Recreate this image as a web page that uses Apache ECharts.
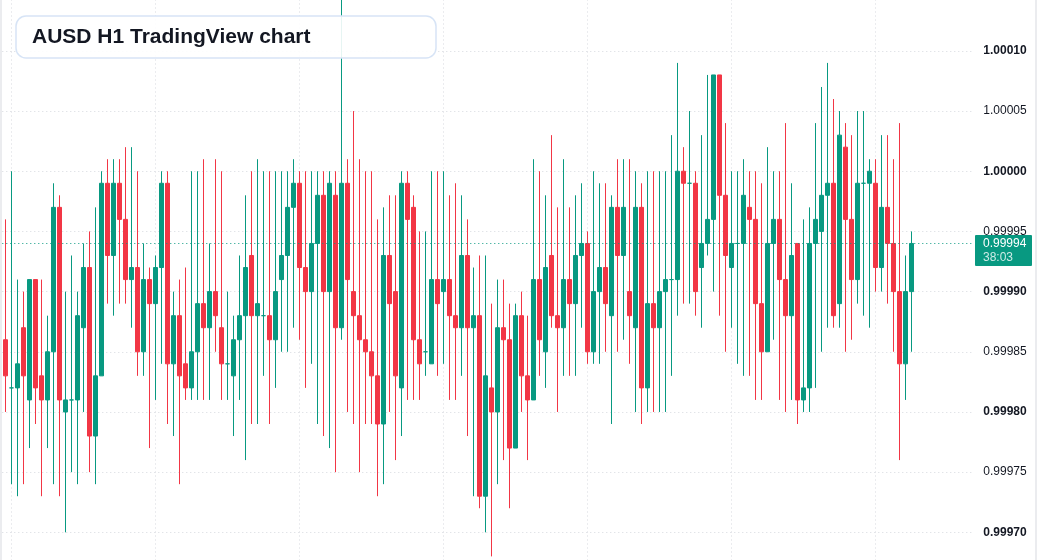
<!DOCTYPE html>
<html><head><meta charset="utf-8">
<script src="https://cdn.jsdelivr.net/npm/echarts@6/dist/echarts.min.js"></script>
<style>html,body{margin:0;padding:0;background:#fff;overflow:hidden}#c{width:1037px;height:560px}</style>
</head><body><div id="c"></div>
<script>
const OPEN = [0.99986,0.99982,0.99982,0.99987,0.99981,0.99991,0.99983,0.99981,0.99985,0.99997,
0.99980,0.99981,0.99981,0.99987,0.99992,0.99978,0.99983,0.99999,0.99993,0.99999,
0.99996,0.99991,0.99992,0.99985,0.99991,0.99989,0.99992,0.99999,0.99984,0.99988,
0.99984,0.99982,0.99985,0.99989,0.99987,0.99990,0.99987,0.99984,0.99983,0.99986,
0.99988,0.99993,0.99988,0.99988,0.99988,0.99986,0.99991,0.99993,0.99997,0.99999,
0.99992,0.99990,0.99994,0.99998,0.99990,0.99998,0.99987,0.99999,0.99990,0.99988,
0.99986,0.99985,0.99983,0.99979,0.99993,0.99990,0.99982,0.99999,0.99997,0.99986,
0.99985,0.99984,0.99991,0.99990,0.99991,0.99988,0.99987,0.99993,0.99987,0.99988,
0.99973,0.99982,0.99980,0.99987,0.99986,0.99977,0.99988,0.99983,0.99981,0.99991,
0.99985,0.99993,0.99988,0.99987,0.99991,0.99989,0.99993,0.99994,0.99985,0.99990,
0.99992,0.99988,0.99997,0.99993,0.99990,0.99987,0.99997,0.99982,0.99989,0.99987,
0.99990,0.99991,0.99991,1.00000,0.99999,0.99999,0.99992,0.99994,0.99996,1.00008,
0.99998,0.99992,0.99994,0.99994,0.99997,0.99996,0.99989,0.99985,0.99994,0.99996,
0.99991,0.99988,0.99994,0.99981,0.99982,0.99994,0.99995,0.99998,0.99999,0.99989,
1.00002,0.99996,0.99991,0.99999,0.99999,0.99999,0.99992,0.99997,0.99994,0.99990,
0.99984,0.99990];
const CLOSE = [0.99983,0.99982,0.99984,0.99983,0.99991,0.99982,0.99981,0.99985,0.99997,0.99981,
0.99981,0.99981,0.99988,0.99992,0.99978,0.99983,0.99999,0.99993,0.99999,0.99996,
0.99991,0.99992,0.99985,0.99991,0.99989,0.99992,0.99999,0.99984,0.99988,0.99983,
0.99982,0.99985,0.99989,0.99987,0.99990,0.99988,0.99984,0.99984,0.99986,0.99988,
0.99992,0.99988,0.99989,0.99988,0.99986,0.99990,0.99993,0.99997,0.99999,0.99992,
0.99990,0.99994,0.99998,0.99990,0.99999,0.99987,0.99999,0.99991,0.99988,0.99986,
0.99985,0.99983,0.99979,0.99993,0.99989,0.99983,0.99999,0.99996,0.99986,0.99984,
0.99985,0.99991,0.99989,0.99991,0.99988,0.99987,0.99993,0.99987,0.99988,0.99973,
0.99983,0.99980,0.99987,0.99986,0.99977,0.99988,0.99983,0.99981,0.99991,0.99986,
0.99992,0.99988,0.99987,0.99991,0.99989,0.99993,0.99994,0.99985,0.99990,0.99992,
0.99989,0.99997,0.99993,0.99997,0.99988,0.99997,0.99982,0.99989,0.99987,0.99990,
0.99991,0.99991,1.00000,0.99999,0.99999,0.99990,0.99994,0.99996,1.00008,0.99998,
0.99993,0.99994,0.99994,0.99998,0.99996,0.99989,0.99985,0.99994,0.99996,0.99991,
0.99988,0.99993,0.99981,0.99982,0.99994,0.99996,0.99998,0.99999,0.99988,1.00003,
0.99996,0.99991,0.99999,0.99999,1.00000,0.99992,0.99997,0.99994,0.99990,0.99984,
0.99990,0.99994];
const LOW = [0.99980,0.99974,0.99973,0.99974,0.99977,0.99979,0.99973,0.99977,0.99974,0.99973,
0.99970,0.99975,0.99974,0.99980,0.99975,0.99974,0.99983,0.99989,0.99988,0.99989,
0.99989,0.99987,0.99983,0.99983,0.99977,0.99981,0.99984,0.99979,0.99978,0.99974,
0.99981,0.99981,0.99981,0.99981,0.99981,0.99985,0.99981,0.99981,0.99978,0.99981,
0.99976,0.99979,0.99979,0.99983,0.99979,0.99982,0.99985,0.99985,0.99987,0.99986,
0.99982,0.99984,0.99979,0.99978,0.99977,0.99975,0.99986,0.99980,0.99979,0.99975,
0.99979,0.99979,0.99973,0.99974,0.99980,0.99976,0.99978,0.99981,0.99981,0.99981,
0.99983,0.99984,0.99983,0.99984,0.99981,0.99981,0.99983,0.99978,0.99973,0.99972,
0.99970,0.99968,0.99974,0.99976,0.99972,0.99977,0.99980,0.99976,0.99981,0.99983,
0.99982,0.99987,0.99980,0.99983,0.99983,0.99983,0.99987,0.99984,0.99984,0.99984,
0.99985,0.99979,0.99985,0.99986,0.99984,0.99980,0.99979,0.99980,0.99980,0.99980,
0.99980,0.99983,0.99988,0.99989,0.99989,0.99988,0.99987,0.99993,0.99990,0.99988,
0.99985,0.99987,0.99984,0.99983,0.99983,0.99981,0.99981,0.99985,0.99986,0.99981,
0.99980,0.99981,0.99979,0.99980,0.99980,0.99982,0.99985,0.99987,0.99987,0.99987,
0.99985,0.99986,0.99989,0.99988,0.99987,0.99990,0.99990,0.99989,0.99985,0.99976,
0.99981,0.99985];
const HIGH = [0.99996,1.00000,0.99991,0.99990,0.99991,0.99991,0.99991,0.99988,0.99999,0.99998,
0.99990,0.99993,0.99990,0.99994,0.99995,0.99997,1.00000,1.00001,1.00001,1.00001,
1.00002,1.00002,1.00000,0.99994,0.99992,0.99993,1.00000,1.00000,0.99990,0.99991,
0.99992,1.00000,1.00000,1.00001,0.99994,1.00001,1.00000,0.99990,0.99988,0.99993,
0.99998,1.00000,1.00001,1.00000,1.00000,1.00000,1.00000,1.00000,1.00001,1.00000,
1.00000,1.00000,1.00000,1.00000,1.00000,1.00000,1.00015,1.00001,1.00005,1.00001,
1.00000,1.00000,0.99996,0.99997,0.99998,0.99998,1.00000,1.00000,0.99998,0.99995,
0.99995,1.00000,1.00000,1.00000,0.99998,0.99999,0.99998,0.99996,0.99992,0.99993,
0.99993,0.99989,0.99991,0.99991,0.99989,0.99989,0.99990,0.99988,1.00001,1.00000,
0.99998,1.00003,0.99997,1.00001,0.99997,0.99998,0.99999,0.99995,1.00000,0.99999,
0.99999,0.99998,1.00001,1.00001,1.00001,1.00000,0.99999,1.00000,1.00000,1.00000,
1.00000,1.00003,1.00009,1.00002,1.00005,1.00000,1.00003,1.00008,1.00008,1.00008,
1.00004,1.00000,1.00000,1.00001,1.00000,1.00000,0.99999,1.00002,1.00000,1.00000,
1.00004,0.99999,0.99994,0.99996,0.99997,1.00004,1.00007,1.00009,1.00006,1.00005,
1.00004,1.00003,1.00005,1.00005,1.00001,1.00001,1.00003,1.00003,1.00001,1.00004,
0.99993,0.99995];
const DAY_STARTS = [1, 25, 49, 73, 97, 121, 145];
const LAST_PRICE = 0.99994;
const COUNTDOWN = '38:03';
const TITLE = 'AUSD H1 TradingView chart';
const Y_MIN = 0.99965, Y_MAX = 1.00015, Y_STEP = 0.00005;
const EMPTY_BARS = 10;

const UP = '#089981', DOWN = '#f23645';
const N = OPEN.length + EMPTY_BARS;
const categories = [];
for (let i = 0; i < N; i++) categories.push('H' + i);
const candles = OPEN.map((o, i) => {
  const item = { value: [o, CLOSE[i], LOW[i], HIGH[i]] };
  if (o === CLOSE[i]) item.itemStyle = { color: UP, color0: UP, borderColor: UP, borderColor0: UP, borderColorDoji: UP };
  return item;
});

const chart = echarts.init(document.getElementById('c'), null, { renderer: 'canvas' });
const font = '"Liberation Sans", Arial, sans-serif';
const gridDot = { color: '#d6d9df', type: [1, 3], width: 1 };
chart.setOption({
  animation: false,
  backgroundColor: '#ffffff',
  grid: { left: 2.3, top: -9.3, width: 972, height: 601.8, containLabel: false, outerBoundsMode: 'none' },
  xAxis: {
    type: 'category', data: categories, boundaryGap: true,
    axisLine: { show: false }, axisTick: { show: false }, axisLabel: { show: false }, splitLine: { show: false }
  },
  yAxis: {
    type: 'value', position: 'right', scale: true,
    min: Y_MIN, max: Y_MAX, interval: Y_STEP,
    axisLine: { show: false }, axisTick: { show: false },
    splitLine: { show: true, lineStyle: gridDot },
    axisLabel: {
      margin: 9, fontFamily: font,
      formatter: v => {
        const s = v.toFixed(5);
        return (Math.round(v * 1e5) % 10 === 0) ? '{b|' + s + '}' : '{n|' + s + '}';
      },
      rich: {
        b: { fontWeight: 'bold', fontSize: 12, color: '#131722', fontFamily: font },
        n: { fontSize: 12, color: '#131722', fontFamily: font }
      }
    }
  },
  series: [
    {
      type: 'line', data: [], z: 1, silent: true,
      markLine: {
        silent: true, symbol: 'none', animation: false, z: 1,
        label: { show: false },
        lineStyle: gridDot,
        data: DAY_STARTS.map(i => ({ xAxis: i }))
      }
    },
    {
      type: 'candlestick', data: candles, barWidth: 4, clip: true, z: 3,
      itemStyle: { color: UP, color0: DOWN, borderColor: UP, borderColor0: DOWN, borderColorDoji: UP, borderWidth: 1 }
    },
    {
      type: 'line', data: [], z: 4, silent: true,
      markLine: {
        silent: true, symbol: 'none', animation: false, z: 4, precision: 5,
        label: { show: false },
        lineStyle: { color: UP, type: [1, 3], width: 1 },
        data: [{ yAxis: LAST_PRICE }]
      }
    }
  ]
});

const py = chart.convertToPixel({ yAxisIndex: 0 }, LAST_PRICE);
chart.setOption({
  graphic: [
    { type: 'rect', shape: { x: 0, y: 0, width: 2, height: 560 }, style: { fill: '#ebecef' }, z: 50 },
    { type: 'rect', shape: { x: 1035, y: 0, width: 2, height: 560 }, style: { fill: '#ebecef' }, z: 50 },
    { type: 'rect', shape: { x: 16, y: 16, width: 420, height: 42, r: 10 },
      style: { fill: 'rgba(255,255,255,0.9)', stroke: '#d7e4f6', lineWidth: 1.5 }, z: 60 },
    { type: 'text', x: 32, y: 37, z: 61,
      style: { text: TITLE, fill: '#131722', font: 'bold 21px ' + font, verticalAlign: 'middle' } },
    { type: 'rect', shape: { x: 975, y: py - 8.5, width: 57, height: 31, r: 1 }, style: { fill: UP }, z: 70 },
    { type: 'text', x: 983, y: py + 0.5, z: 71,
      style: { text: LAST_PRICE.toFixed(5), fill: '#ffffff', font: '12px ' + font, verticalAlign: 'middle' } },
    { type: 'text', x: 983, y: py + 14.5, z: 71,
      style: { text: COUNTDOWN, fill: 'rgba(255,255,255,0.8)', font: '12px ' + font, verticalAlign: 'middle' } }
  ]
});
</script>
</body></html>
